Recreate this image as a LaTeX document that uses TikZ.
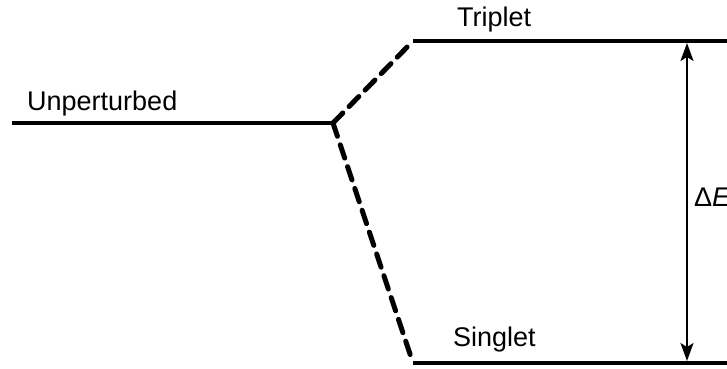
\documentclass[tikz,border=0pt]{standalone}
\usepackage{fontspec}
\setmainfont{Liberation Sans}
\usetikzlibrary{arrows.meta}
\begin{document}
\begin{tikzpicture}[x=1pt,y=-1pt,
  level/.style={line width=3.5pt},
  trans/.style={line width=5pt, dash pattern=on 14pt off 9pt, line cap=round},
  lbl/.style={inner sep=0pt, anchor=base west, font=\fontsize{27}{30}\selectfont},
  gap/.style={line width=1.6pt, {Stealth[length=18pt,width=13pt,inset=4pt]}-{Stealth[length=18pt,width=13pt,inset=4pt]}}]
\useasboundingbox (0,0) rectangle (727,368);
\clip (0,0) rectangle (727,368);
\coordinate (u0) at (12,123);
\coordinate (u1) at (333,123);
\coordinate (t0) at (413,41);
\coordinate (t1) at (727,41);
\coordinate (s0) at (413,363);
\coordinate (s1) at (727,363);
\coordinate (at) at (687,43);
\coordinate (as) at (687,361);
\draw[level] (u0) -- (u1);
\draw[level] (t0) -- (t1);
\draw[level] (s0) -- (s1);
\draw[trans] (u1) -- (t0);
\draw[trans] (u1) -- (s0);
\draw[gap] (at) -- (as);
\node[lbl] (unp) at (27,110) {Unperturbed};
\node[lbl] (tri) at (457,26) {Triplet};
\node[lbl] (sin) at (453,346) {Singlet};
\node[lbl] (de) at (694,206) {Δ\textit{E}};
\end{tikzpicture}
\end{document}
